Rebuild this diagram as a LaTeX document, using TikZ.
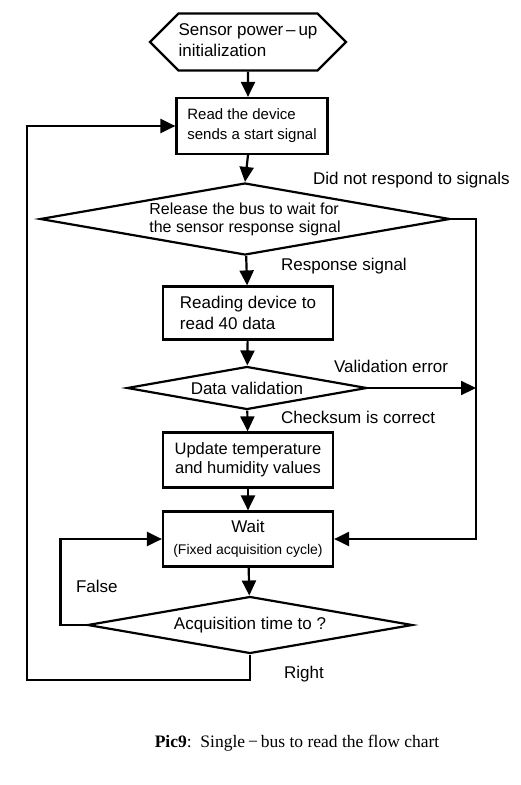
\documentclass[tikz,border=0pt]{standalone}
\usepackage{fontspec}
\setmainfont{Liberation Sans}
\newfontfamily\capfont{Liberation Serif}
\usetikzlibrary{arrows.meta,shapes.geometric,shapes.symbols}

\begin{document}
\begin{tikzpicture}[x=1pt,y=-1pt,
  line width=2.2pt,
  font=\fontsize{17}{21}\selectfont,
  arr/.style={-{Triangle[length=15pt,width=14pt]}},
  box/.style={draw,rectangle,minimum width=170pt,minimum height=55pt,inner sep=2pt},
  decision/.style={draw,diamond,aspect=5.7,inner sep=0pt},
  hexa/.style={draw,signal,signal to=east and west,signal pointer angle=90,
    minimum width=190pt,minimum height=57pt,inner sep=0pt},
  lbl/.style={anchor=west,inner sep=0pt}]
\useasboundingbox (0,0) rectangle (521,785);

% boxes
\node[hexa] (init) at (248,42) {\begin{tabular}{@{}l@{}}Sensor power\,--\,up\\initialization\end{tabular}};
\node[box,minimum width=151pt,minimum height=56pt,align=left,font=\fontsize{15}{20}\selectfont] (read) at (252,126) {Read the device\\sends a start signal};
\node[decision,minimum width=410pt,minimum height=72pt,align=left,font=\fontsize{16}{18}\selectfont] (release) at (245,219) {Release the bus to wait for\\the sensor response signal};
\node[box,minimum height=53pt,align=left] (readdata) at (248,313) {Reading device to\\read 40 data};
\node[decision,minimum width=240pt,minimum height=43pt] (check) at (247,388) {Data validation};
\node[box,align=center,font=\fontsize{16.5}{19}\selectfont] (update) at (248,460) {Update temperature\\and humidity values};
\node[box,align=center] (wait) at (248,539) {Wait\\[1pt]{\fontsize{14}{16}\selectfont(Fixed acquisition cycle)}};
\node[decision,minimum width=325pt,minimum height=57pt] (timeq) at (250,625) {Acquisition time to ?};

% bus lines
\coordinate (rbus) at (476,219);
\coordinate (lbus) at (27,680);

\draw[arr] (init) -- (init |- read.north);
\draw[arr] (read.south -| init) -- (release.north);
\draw[arr] (release) -- (readdata);
\draw[arr] (readdata) -- (check);
\draw[arr] (check) -- (update);
\draw[arr] (update) -- (wait);
\draw[arr] (wait) -- (timeq);
\draw[arr] (release.east) -- (rbus) |- (wait.east);
\draw[arr] (check.east) -- (check.east -| rbus);
\draw[arr] (timeq.west) -- ++(-26,0) |- (wait.west);
\draw[arr] (timeq.south) |- (lbus) |- (read.west);

% labels
\node[lbl] (nores) at (312,180) {Did not respond to signals};
\node[lbl] (res) at (280,266) {Response signal};
\node[lbl] (err) at (333,366) {Validation error};
\node[lbl] (ok) at (280,417) {Checksum is correct};
\node[lbl] (no) at (75,586) {False};
\node[lbl] (yes) at (283,674) {Right};

\node[font=\capfont\fontsize{17.5}{20}\selectfont] (cap) at (297,743) {\textbf{Pic9}:\ \ Single\,−\,bus to read the flow chart};
\end{tikzpicture}
\end{document}
